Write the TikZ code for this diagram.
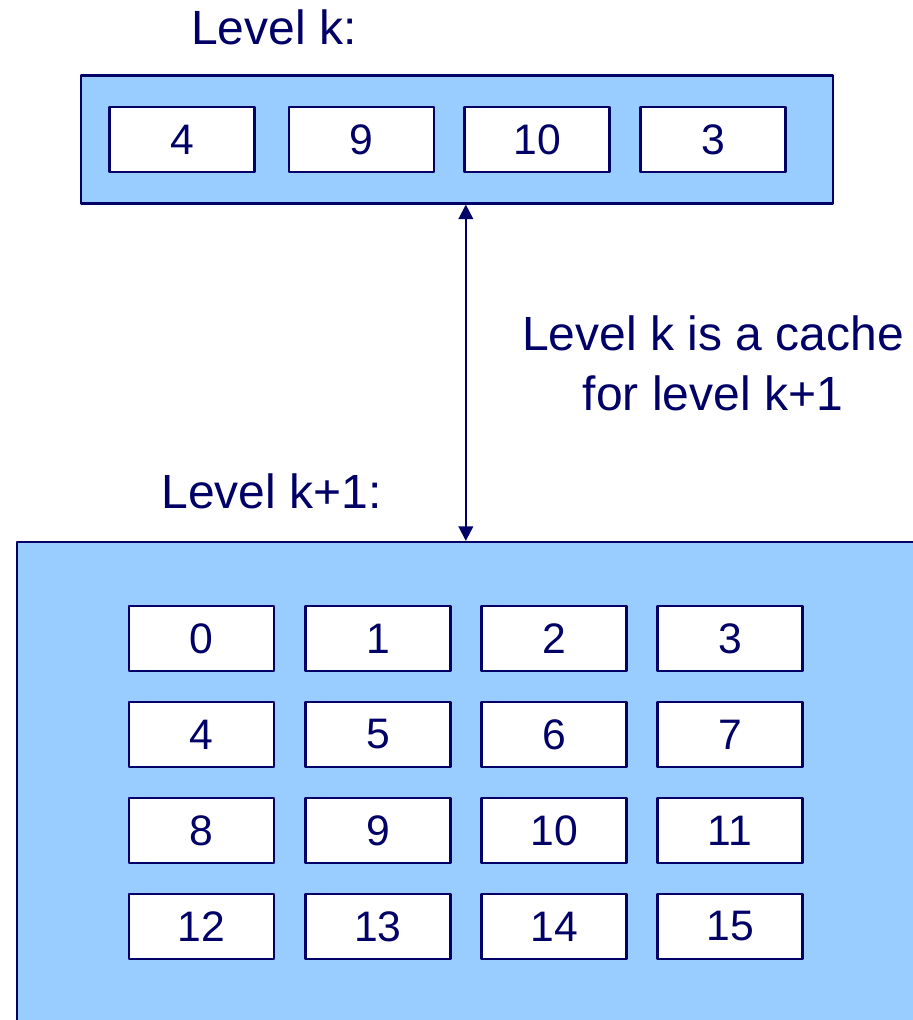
\documentclass[tikz,border=0pt]{standalone}
\usepackage{fontspec}
\setmainfont{Liberation Sans}
\usetikzlibrary{arrows.meta}
\definecolor{zzccff}{rgb}{0.6,0.8,1}
\definecolor{qqqqww}{rgb}{0,0,0.4}

\begin{document}
\begin{tikzpicture}[line cap=round,line join=round,>={Triangle[length=11pt,width=11pt]},x=0.75pt,y=-0.75pt,
    level/.style={draw=qqqqww,fill=zzccff,line width=1.6pt,inner sep=0pt},
    cell/.style={draw=qqqqww,fill=white,line width=1.6pt,minimum width=108.75pt,minimum height=48.75pt,inner sep=0pt,text=qqqqww,font=\fontsize{32}{38}\selectfont},
    caption/.style={text=qqqqww,font=\fontsize{36}{45}\selectfont,inner sep=0pt}]
	\clip(0,0) rectangle (913,1020);
	% level k
	\node [level,minimum width=564pt,minimum height=96pt] (levk) at (457,139.5) {};
	\node [cell] (k4) at (182,139.5) {4};
	\node [cell] (k9) at (361.5,139.5) {9};
	\node [cell] (k10) at (537,139.5) {10};
	\node [cell] (k3) at (713,139.5) {3};
	% level k+1
	\node [level,minimum width=692.25pt,minimum height=377.25pt] (levkk) at (478.5,793.5) {};
	\node [cell] (b0) at (201.5,638.5) {0};
	\node [cell] (b1) at (378,638.5) {1};
	\node [cell] (b2) at (554,638.5) {2};
	\node [cell] (b3) at (730,638.5) {3};
	\node [cell] (b4) at (201.5,734.5) {4};
	\node [cell] (b5) at (378,734.5) {5};
	\node [cell] (b6) at (554,734.5) {6};
	\node [cell] (b7) at (730,734.5) {7};
	\node [cell] (b8) at (201.5,830.5) {8};
	\node [cell] (b9) at (378,830.5) {9};
	\node [cell] (b10) at (554,830.5) {10};
	\node [cell] (b11) at (730,830.5) {11};
	\node [cell] (b12) at (201.5,926.5) {12};
	\node [cell] (b13) at (378,926.5) {13};
	\node [cell] (b14) at (554,926.5) {14};
	\node [cell] (b15) at (730,926.5) {15};
	\draw [<->,color=qqqqww,line width=1.5pt] ([xshift=1.8pt]levk.south -| k10.west) -- ([xshift=1.8pt]levkk.north -| k10.west);
	\node [caption,anchor=base] (levklabel) at (274,45) {Level k:};
	\node [caption,anchor=base] (levkklabel) at (271.5,508) {Level k+1:};
	\node [caption,anchor=north,align=center] (cachenote) at (713,315) {Level k is a cache\\for level k+1};
\end{tikzpicture}
\end{document}
